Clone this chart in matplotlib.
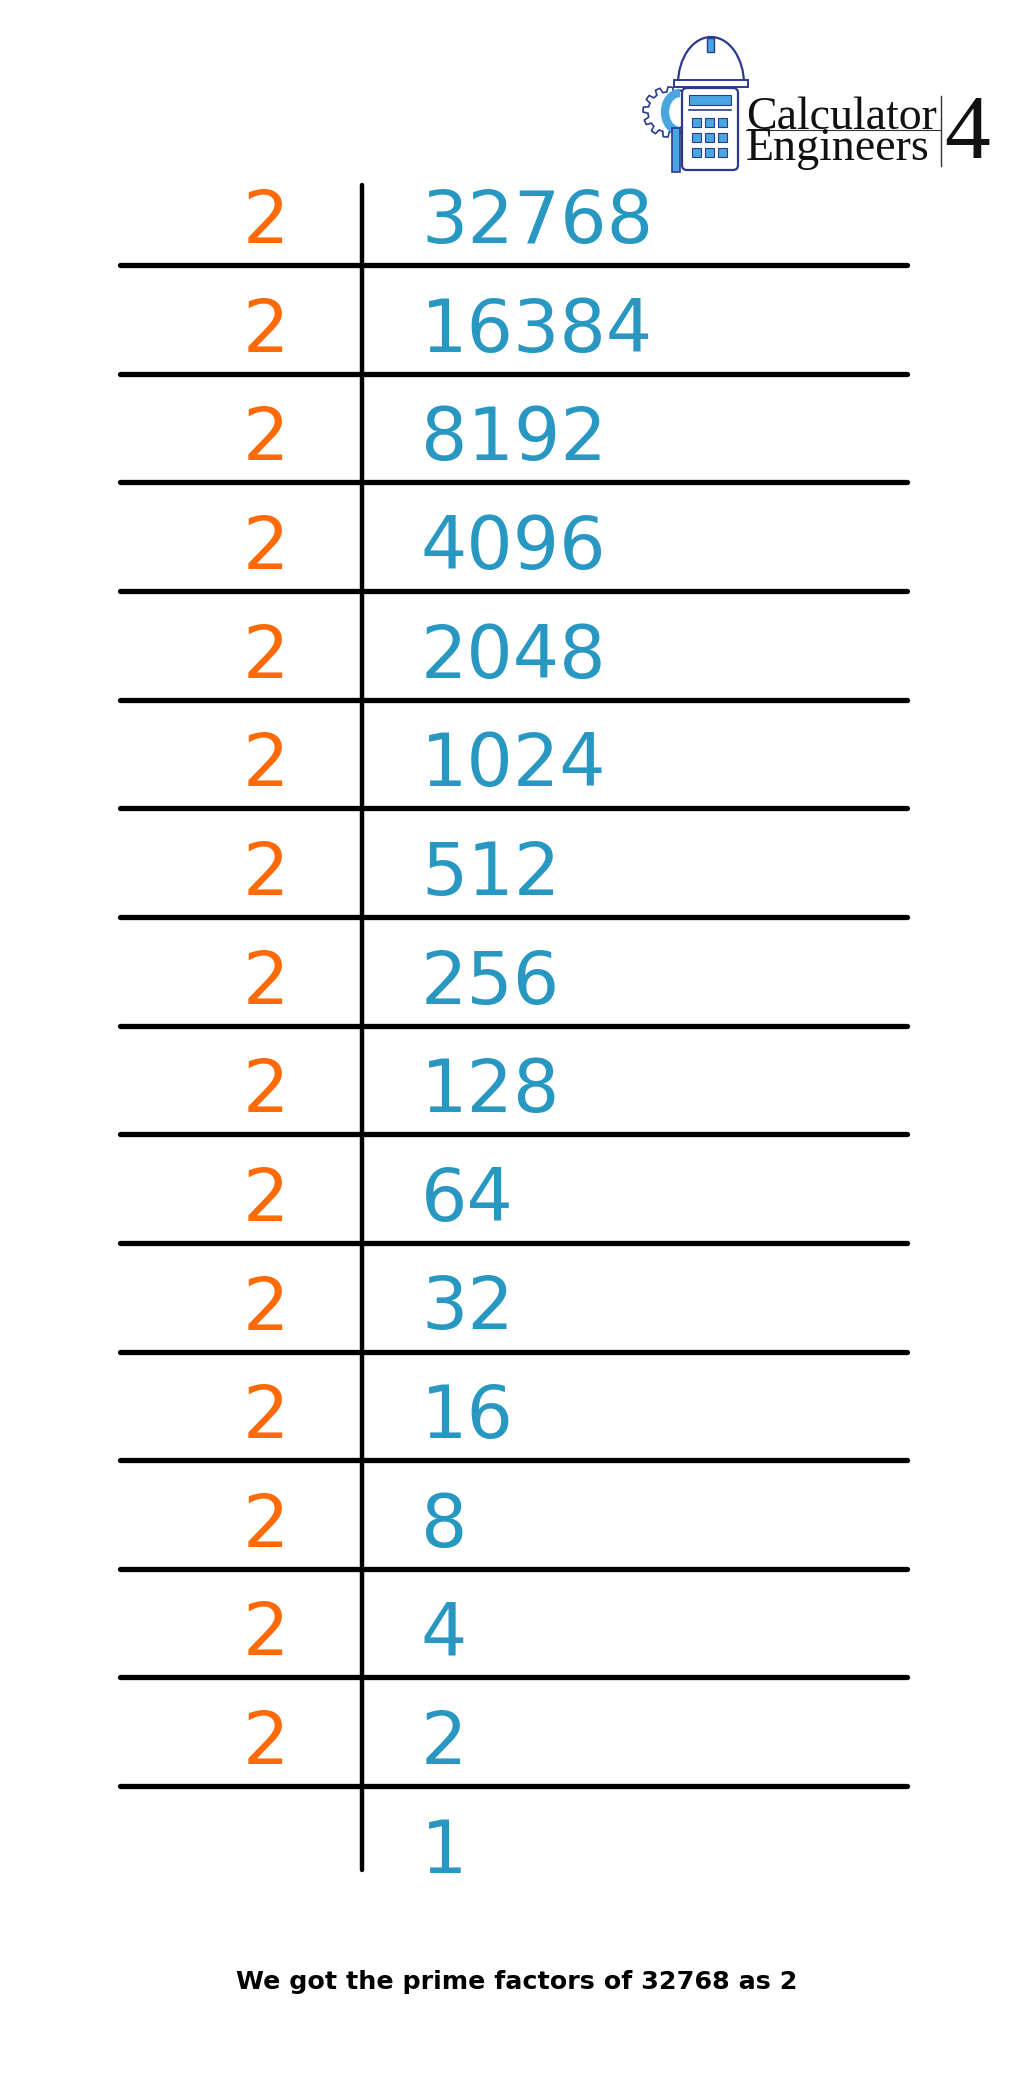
import numpy as np
import matplotlib.pyplot as plt
from matplotlib.patches import Rectangle, Polygon, Arc, FancyBboxPatch

# ---------- data ----------
divisors = [2, 2, 2, 2, 2, 2, 2, 2, 2, 2, 2, 2, 2, 2, 2]
quotients = [32768, 16384, 8192, 4096, 2048, 1024, 512, 256, 128, 64, 32, 16, 8, 4, 2, 1]
caption = "We got the prime factors of 32768 as 2"

orange = "#FF6A08"
blue = "#2898C2"
navy = "#2B3A8C"
light_blue = "#4AA6E0"

# ---------- canvas in pixel coords ----------
fig = plt.figure(figsize=(10.24, 20.84), dpi=100)
ax = fig.add_axes([0, 0, 1, 1])
ax.set_xlim(0, 1024)
ax.set_ylim(2084, 0)
ax.axis("off")

first_line = 265
step = 108.65
x_left, x_right = 120, 907
x_div = 362

# horizontal separators under each division row
for i in range(len(divisors)):
    y = first_line + i * step
    ax.plot([x_left, x_right], [y, y], color="black", lw=3.8, solid_capstyle="round")

# vertical bar
ax.plot([x_div, x_div], [185, 1870], color="black", lw=3.2, solid_capstyle="round")

# numbers
for i, q in enumerate(quotients):
    base = first_line - 22 + i * step
    if i < len(divisors):
        ax.text(266, base, str(divisors[i]), color=orange, fontsize=52.5,
                family="DejaVu Sans", ha="center", va="baseline")
    ax.text(421, base, str(q), color=blue, fontsize=52.5,
            family="DejaVu Sans", ha="left", va="baseline")

# caption
ax.text(517, 1982, caption, fontsize=18.3, fontweight="bold", family="DejaVu Sans",
        ha="center", va="center", color="black")

# ---------- logo ----------
# gear
ang = np.linspace(0, 2 * np.pi, 97)
r = np.where((np.arange(97) // 4) % 2 == 0, 25, 20)
ax.add_patch(Polygon(np.c_[668 + r * np.cos(ang), 112 + r * np.sin(ang)],
                     closed=True, fill=False, ec=navy, lw=1.2))
ax.add_patch(Arc((680, 112), 30, 38, theta1=90, theta2=270, color=light_blue, lw=6))
# screwdriver
ax.add_patch(Rectangle((672, 128), 8, 44, fc=light_blue, ec=navy, lw=1.2))
# helmet
ax.add_patch(Arc((711, 84), 66, 94, theta1=180, theta2=360, color=navy, lw=1.6))
ax.add_patch(Rectangle((707, 38), 7, 14, fc=light_blue, ec=navy, lw=1.0))
ax.add_patch(Rectangle((674, 80), 74, 7, fc="white", ec=navy, lw=1.4))
# calculator body
ax.add_patch(FancyBboxPatch((682, 88), 56, 82, boxstyle="round,pad=0,rounding_size=5",
                            fc="white", ec=navy, lw=1.6))
ax.add_patch(Rectangle((689, 95), 42, 10, fc=light_blue, ec=navy, lw=0.8))
ax.plot([689, 731], [110, 110], color=navy, lw=1.2)
for rr in range(3):
    for cc in range(3):
        ax.add_patch(Rectangle((692 + cc * 13, 118 + rr * 15), 9, 9,
                               fc=light_blue, ec=navy, lw=0.8))

ax.text(746, 160, "Calculator\nEngineers", fontsize=33, family="Liberation Serif",
        ha="left", va="baseline", color="#111111", linespacing=0.66,
        multialignment="left")
ax.plot([746, 940], [130, 130], color="#333333", lw=0.8)
ax.plot([941, 941], [96, 166], color="#333333", lw=1.0)
ax.text(944, 158, "4", fontsize=66, family="Liberation Serif",
        ha="left", va="baseline", color="#111111")

fig.savefig("out.png", dpi=100, facecolor="white")
